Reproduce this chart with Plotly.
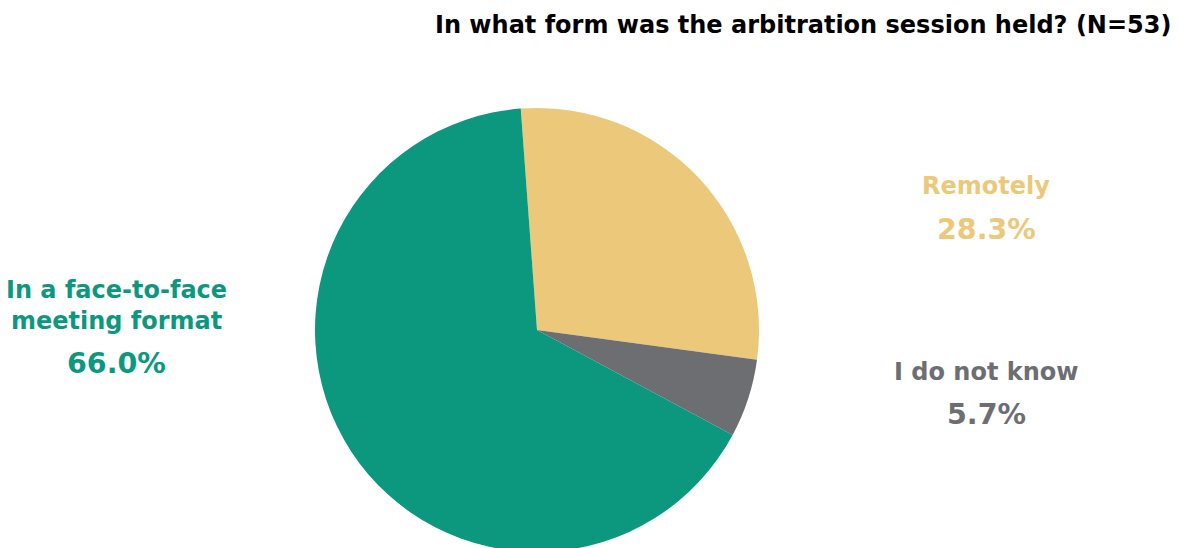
import plotly.graph_objects as go

# Survey answers (N=53)
categories = ["Remotely", "I do not know", "In a face-to-face meeting format"]
shares = [28.3, 5.7, 66.0]
colors = ["#ECC97A", "#6D6E71", "#0C987F"]
label_lines = ["Remotely", "I do not know", "In a face-to-face<br>meeting format"]

W, H = 1179, 570


def px(x):
    return x / W


def py(y):
    return (H - y) / H


fig = go.Figure(
    go.Pie(
        labels=categories,
        values=shares,
        marker=dict(colors=colors, line=dict(width=0)),
        sort=False,
        direction="clockwise",
        rotation=-4.2,
        textinfo="none",
        hoverinfo="label+percent",
        domain=dict(x=[px(315), px(759)], y=[py(552), py(108)]),
        showlegend=False,
    )
)

FONT = "DejaVu Sans"

# label + percentage placement (pixel centres)
positions = [(986, 186, 229), (986, 372, 414), (116, 305, 363)]
annotations = []
for name, val, col, (x, yl, yv) in zip(label_lines, shares, colors, positions):
    annotations.append(dict(
        x=px(x), y=py(yl), xref="paper", yref="paper",
        text=f"<b>{name}</b>", showarrow=False, xanchor="center", yanchor="middle",
        font=dict(family=FONT, size=24, color=col), align="center",
    ))
    annotations.append(dict(
        x=px(x), y=py(yv), xref="paper", yref="paper",
        text=f"<b>{val:.1f}%</b>", showarrow=False, xanchor="center", yanchor="middle",
        font=dict(family=FONT, size=28.5, color=col),
    ))

annotations.append(dict(
    x=px(1173), y=py(25), xref="paper", yref="paper",
    text="<b>In what form was the arbitration session held? (N=53)</b>",
    showarrow=False, xanchor="right", yanchor="middle",
    font=dict(family=FONT, size=24, color="#000000"),
))

fig.update_layout(
    width=W, height=H,
    margin=dict(l=0, r=0, t=0, b=0),
    paper_bgcolor="white", plot_bgcolor="white",
    annotations=annotations,
)

fig.write_html(
    "out.html",
    config={"displayModeBar": False},
    post_script="document.documentElement.style.overflow='hidden';document.body.style.overflow='hidden';document.body.style.margin='0';",
)
